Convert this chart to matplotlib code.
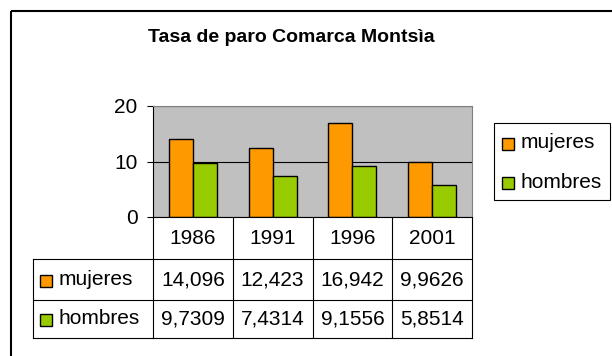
import matplotlib
matplotlib.use("Agg")
import matplotlib.pyplot as plt
from matplotlib.transforms import blended_transform_factory
from matplotlib.patches import Rectangle

plt.rcParams["font.family"] = ["Liberation Sans", "DejaVu Sans"]

# tasa de paro por sexo
years = ["1986", "1991", "1996", "2001"]
mujeres = [14.096, 12.423, 16.942, 9.9626]
hombres = [9.7309, 7.4314, 9.1556, 5.8514]
series = ["mujeres", "hombres"]
colors = ["#FF9900", "#99CC00"]

W, H = 612, 356
FS = 15
fig = plt.figure(figsize=(W / 100, H / 100), dpi=100)

# capa en pixeles para marco, tabla y leyenda
over = fig.add_axes([0, 0, 1, 1])
over.set_xlim(0, W)
over.set_ylim(H, 0)
over.axis("off")
over.add_patch(Rectangle((11, 11), W + 20, H + 20, fill=False, lw=1.5, ec="black"))

over.text(291, 37, "Tasa de paro Comarca Montsìa", ha="center", va="center",
          fontsize=14, fontweight="bold")

# grafico de barras
ax = fig.add_axes([153 / W, (H - 217) / H, 319 / W, 111 / H])
ax.set_facecolor("#C0C0C0")
x = range(len(years))
ax.bar([i - 0.15 for i in x], mujeres, width=0.3, color=colors[0], ec="black", lw=1, zorder=3)
ax.bar([i + 0.15 for i in x], hombres, width=0.3, color=colors[1], ec="black", lw=1, zorder=3)
ax.set_xlim(-0.5, len(years) - 0.5)
ax.set_ylim(0, 20)
ax.set_yticks([0, 10, 20])
ax.yaxis.grid(True, color="black", lw=0.8, zorder=1)
ax.set_xticks([])
ax.tick_params(axis="y", labelsize=FS, length=4, width=0.8, pad=7)
for s in ["top", "right"]:
    ax.spines[s].set_color("#808080")
ax.spines["left"].set_color("black")
ax.spines["bottom"].set_color("black")
ax.spines["bottom"].set_zorder(4)

# tabla de datos debajo del eje
tr = blended_transform_factory(ax.transData, over.transData)
row_y = [217, 259, 300, 338]
left = 33
n = len(years)
for i in range(n + 1):
    over.plot([i - 0.5, i - 0.5], [row_y[0], row_y[-1]], color="black", lw=0.8, transform=tr)
for yy in row_y[1:]:
    over.plot([left, 153], [yy, yy], color="black", lw=0.8)
    over.plot([-0.5, n - 0.5], [yy, yy], color="black", lw=0.8, transform=tr)
over.plot([left, left], [row_y[1], row_y[-1]], color="black", lw=0.8)

for i, yr in enumerate(years):
    over.text(i, (row_y[0] + row_y[1]) / 2, yr, ha="center", va="center", fontsize=FS, transform=tr)

for r, (name, vals, c) in enumerate(zip(series, [mujeres, hombres], colors)):
    yc = (row_y[r + 1] + row_y[r + 2]) / 2
    over.add_patch(Rectangle((40, yc - 5), 12, 12, fc=c, ec="black", lw=1))
    over.text(59, yc, name, ha="left", va="center", fontsize=FS)
    for i, v in enumerate(vals):
        over.text(i, yc, str(v).replace(".", ","), ha="center", va="center", fontsize=FS, transform=tr)

# leyenda
over.add_patch(Rectangle((494, 123), 116, 77, fill=False, ec="black", lw=0.8))
for r, (name, c) in enumerate(zip(series, colors)):
    yc = 143 + r * 39
    over.add_patch(Rectangle((502, yc - 5), 12, 12, fc=c, ec="black", lw=1))
    over.text(521, yc, name, ha="left", va="center", fontsize=FS)

fig.savefig("out.png", dpi=100)
